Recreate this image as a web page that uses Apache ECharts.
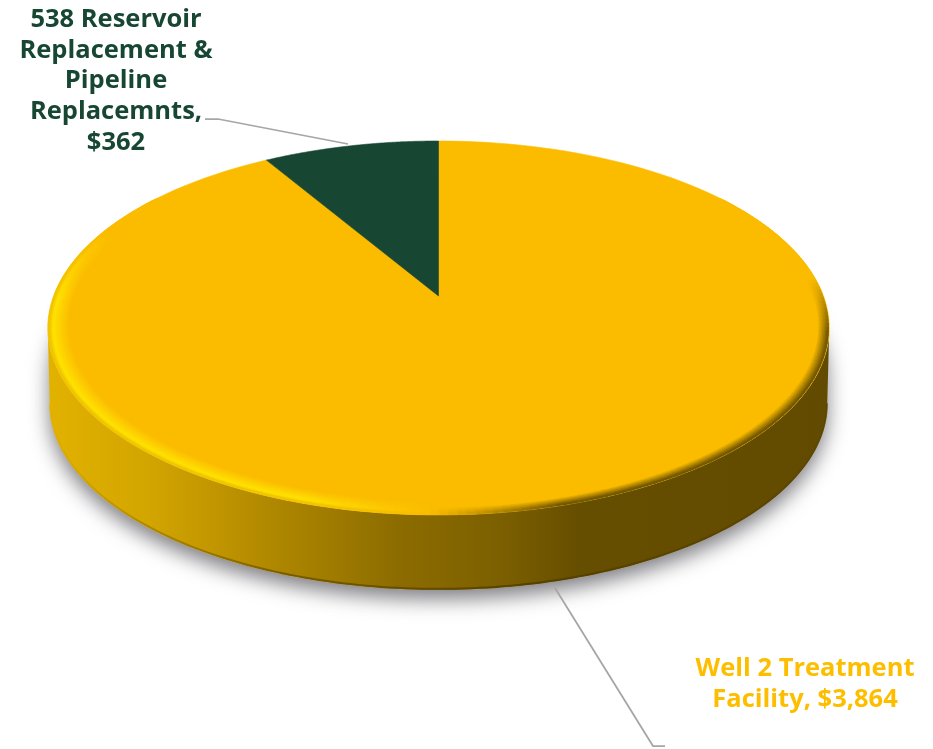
<!DOCTYPE html>
<html>
<head>
<meta charset="utf-8">
<style>html,body{margin:0;padding:0;background:#fff}#chart{width:933px;height:749px}</style>
<script src="https://cdn.jsdelivr.net/npm/echarts@6/dist/echarts.min.js"></script>
</head>
<body>
<div id="chart"></div>
<script>
// Project costs, in clockwise order from twelve o'clock
const categories = ['Well 2 Treatment\nFacility', '538 Reservoir\nReplacement &\nPipeline\nReplacemnts'];
const values = [3864, 362];
const labelSeparators = [' ', '\n'];
const sliceColors = ['#FBBC00', '#174733'];
const labelColors = ['#FDBE00', '#174733'];

// Tilted disc: a unit circle under a perspective projection
const disc = { cx: 438.5, cy: 296, rx: 385, ry: 181.5, persp: 0.171, depth: 76.5 };
const labelAnchors = [{ x: 805, y: 684 }, { x: 116, y: 81 }];
const leaderPaths = [
  [[555, 588], [653, 746], [665, 746]],
  [[205, 119], [218, 119], [348, 144]]
];
const FONT = '"Open Sans", "Noto Sans", sans-serif';
const total = values.reduce((a, b) => a + b, 0);

// Angles where the projected rim reaches its left and right extremes
const nearStart = Math.acos(-disc.persp);
const nearEnd = 2 * Math.PI - nearStart;

function project(theta, scale, drop) {
  const u = Math.sin(theta) * scale, v = Math.cos(theta) * scale;
  const w = 1 + disc.persp * v;
  return [disc.cx + disc.rx * u / w, disc.cy - disc.ry * v / w + (drop || 0)];
}
function sliceRange(index) {
  let start = 0;
  for (let i = 0; i < index; i++) start += values[i];
  return [start / total * 2 * Math.PI, (start + values[index]) / total * 2 * Math.PI];
}
function arc(a0, a1, scale, drop, steps) {
  const pts = [];
  for (let i = 0; i <= steps; i++) pts.push(project(a0 + (a1 - a0) * i / steps, scale, drop));
  return pts;
}
function clamp01(t) { return Math.max(0, Math.min(1, t)); }
function mix(c0, c1, t) {
  t = clamp01(t);
  return c0.map((c, i) => c + (c1[i] - c) * t);
}
function rgb(c) {
  return 'rgb(' + Math.round(c[0]) + ',' + Math.round(c[1]) + ',' + Math.round(c[2]) + ')';
}

// Wall shading runs left to right across the whole disc
const wallFill = {
  type: 'linear', global: true, x: 48, y: 0, x2: 829, y2: 0,
  colorStops: [
    { offset: 0, color: '#e2b200' }, { offset: 0.13, color: '#d2a500' },
    { offset: 0.2, color: '#c49800' }, { offset: 0.32, color: '#a88200' },
    { offset: 0.45, color: '#8c6c00' }, { offset: 0.58, color: '#7c5f00' },
    { offset: 0.68, color: '#664e00' }, { offset: 1, color: '#624b00' }
  ]
};
const wallEdgeFill = {
  type: 'linear', global: true, x: 48, y: 0, x2: 829, y2: 0,
  colorStops: [
    { offset: 0, color: '#e2b200' }, { offset: 0.12, color: '#a88200' }, { offset: 0.3, color: '#6d5200' },
    { offset: 0.6, color: '#4e3b00' }, { offset: 1, color: '#5c4600' }
  ]
};

function shadowItem(params, api) {
  if (params.dataIndex !== 0) return { type: 'group', children: [] };
  const near = arc(nearStart, nearEnd, 0.995, disc.depth, 120);
  const far = arc(nearEnd, nearStart + 2 * Math.PI, 0.995, 40, 60);
  return {
    type: 'polygon',
    shape: { points: near.concat(far) },
    style: { fill: '#d6d6d6', shadowBlur: 20, shadowColor: 'rgba(105,105,110,0.85)', shadowOffsetY: 9 },
    silent: true
  };
}
function wallItem(params, api) {
  const range = sliceRange(params.dataIndex);
  const a0 = Math.max(range[0], nearStart), a1 = Math.min(range[1], nearEnd);
  if (a1 <= a0) return { type: 'group', children: [] };
  const upper = arc(a0, a1, 1, 0, 160);
  const lower = arc(a0, a1, 0.995, disc.depth, 160);
  return {
    type: 'group',
    children: [
      { type: 'polygon', shape: { points: upper.concat(lower.reverse()) }, style: { fill: wallFill } },
      { type: 'polyline', shape: { points: arc(a0, a1, 0.994, disc.depth - 1, 160) },
        style: { fill: 'none', stroke: wallEdgeFill, lineWidth: 2, opacity: 0.8 } }
    ],
    silent: true
  };
}
function topItem(params, api) {
  const [a0, a1] = sliceRange(params.dataIndex);
  const color = sliceColors[params.dataIndex];
  return {
    type: 'polygon',
    shape: { points: [project(0, 0, 0)].concat(arc(a0, a1, 1, 0, 160)) },
    style: { fill: color, stroke: color, lineWidth: 0.6 },
    silent: true
  };
}

// Bevel along the near rim: bright on the lit side, dark on the far side
const baseColor = [251, 188, 0];
const bevelStep = 0.0035;
const bevelRings = 15;
function litShade(s) {
  if (s < 0.012) return mix([234, 186, 0], [255, 226, 0], s / 0.012);
  return mix([255, 226, 0], baseColor, (s - 0.012) / 0.04);
}
function darkShade(s) {
  return mix([98, 75, 0], baseColor, s / 0.028);
}
function bevelItem(params, api) {
  const range = sliceRange(params.dataIndex);
  const a0 = Math.max(range[0], Math.PI * 0.3), a1 = Math.min(range[1], Math.PI * 1.7);
  if (a1 <= a0) return { type: 'group', children: [] };
  const children = [];
  const steps = 220;
  // inner rings first, so each outer ring trims the one before it
  for (let r = bevelRings; r >= 1; r--) {
    const s = r * bevelStep, scale = 1 - s;
    for (let i = 0; i < steps; i++) {
      const t0 = a0 + (a1 - a0) * i / steps, t1 = a0 + (a1 - a0) * (i + 1) / steps;
      const mid = (t0 + t1) / 2;
      const x = project(mid, 1, 0)[0];
      const v = Math.cos(mid);
      // fades out toward the far rim, a little sooner on the shaded side
      const fade = x < disc.cx ? clamp01((0.38 - v) / 0.38) : clamp01((0.1 - v) / 0.3);
      const shade = x < 430
        ? mix(litShade(s), baseColor, (x - 300) / 130)
        : mix(baseColor, darkShade(s), (x - 430) / 130);
      const col = mix(baseColor, shade, fade);
      const p0 = project(t0, scale, 0), p1 = project(t1, scale, 0);
      children.push({
        type: 'line',
        shape: { x1: p0[0], y1: p0[1], x2: p1[0], y2: p1[1] },
        style: { stroke: rgb(col), lineWidth: 2.2, lineCap: 'round' }
      });
    }
  }
  return { type: 'group', children, silent: true };
}
function labelItem(params, api) {
  const i = params.dataIndex;
  const text = categories[i] + ',' + labelSeparators[i] + '$' + api.value(0).toLocaleString('en-US');
  return {
    type: 'group',
    children: [
      { type: 'polyline', shape: { points: leaderPaths[i] },
        style: { fill: 'none', stroke: '#a6a6a6', lineWidth: 1.75 } },
      { type: 'text', x: labelAnchors[i].x, y: labelAnchors[i].y,
        style: { text, fill: labelColors[i], font: 'bold 25.5px ' + FONT, lineHeight: 30.75,
                 textAlign: 'center', textVerticalAlign: 'middle' } }
    ],
    silent: true
  };
}

const layers = [shadowItem, wallItem, topItem, bevelItem, labelItem];
const chart = echarts.init(document.getElementById('chart'), null, { renderer: 'canvas' });
chart.setOption({
  animation: false,
  backgroundColor: '#ffffff',
  series: layers.map((renderItem, k) => ({
    type: 'custom',
    coordinateSystem: 'none',
    z: k + 1,
    renderItem,
    data: values.map(v => [v])
  }))
});
</script>
</body>
</html>
